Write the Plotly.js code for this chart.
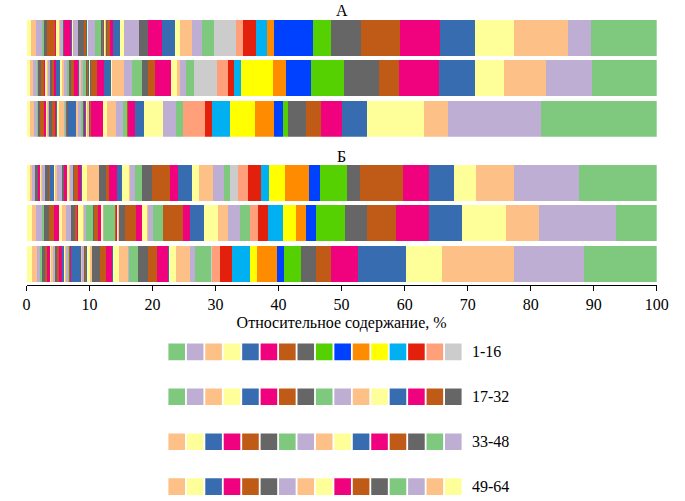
<!DOCTYPE html>
<html>
<head>
<meta charset="utf-8">
<script src="https://cdn.plot.ly/plotly-3.0.1.min.js"></script>
<style>html,body{margin:0;padding:0;background:#fff;}#chart{width:685px;height:501px;}</style>
</head>
<body>
<div id="chart"></div>
<script>
// ---- data ----
const panelTitles = ['А', 'Б'];
const xAxisTitle = 'Относительное содержание, %';
const xTickValues = [0, 10, 20, 30, 40, 50, 60, 70, 80, 90, 100];
const legendLabels = ['1-16', '17-32', '33-48', '49-64'];

// colours of fractions 1..64
const segmentColors = [
  '#7fc97f','#beaed4','#fdc086','#ffff99','#386cb0','#f0027f','#bf5b17','#666666',
  '#55d000','#0040ff','#ff8c00','#ffff00','#00b0f0','#e3200b','#ffa07a','#cccccc',
  '#7fc97f','#beaed4','#fdc086','#ffff99','#386cb0','#f0027f','#bf5b17','#666666',
  '#7fc97f','#beaed4','#fdc086','#ffff99','#386cb0','#f0027f','#bf5b17','#666666',
  '#fdc086','#ffff99','#386cb0','#f0027f','#bf5b17','#666666','#7fc97f','#beaed4',
  '#fdc086','#ffff99','#386cb0','#f0027f','#bf5b17','#666666','#7fc97f','#beaed4',
  '#fdc086','#ffff99','#386cb0','#f0027f','#bf5b17','#666666','#beaed4','#fdc086',
  '#ffff99','#f0027f','#bf5b17','#666666','#7fc97f','#beaed4','#fdc086','#ffff99'
];

// panel A, bars top to bottom (fraction 1..64, %)
const barA1 = [10.4,3.6,8.6,6.3,5.5,6.3,6.3,4.7,2.9,6.2,1.1,0,1.7,2.1,1.0,3.5,
  2.0,1.6,1.8,0.9,2.0,2.2,0,1.4,0,2.4,0,0.6,1.1,0.6,0.4,0.2,
  0.2,0.1,0.1,0.1,0.1,0.1,1.0,1.1,0.1,0.1,0.1,0.1,0.3,0.9,0.1,0.7,
  0.1,0.1,0.1,1.1,0.1,0.1,0.5,0.1,0.5,0.1,1.4,0.5,0.3,0.9,0.8,0.7];
const barA2 = [10.2,7.4,6.6,4.6,5.8,6.3,3.2,5.5,5.2,4.1,2.0,5.0,1.1,1.0,1.8,3.6,
  1.3,1.0,0.4,0.9,0,2.6,1.1,0.9,1.6,1.3,2.0,0.1,1.1,1.1,1.0,0.1,
  0.1,0.1,0.1,0.1,0.1,0.1,0.5,0.4,0.2,0.1,0.2,0.6,0.5,0.2,0.3,0.5,
  0.4,0.3,0.6,0.3,0.4,0.3,0.3,0.2,0.2,0.3,0.4,0.4,0.3,0.6,0.5,0.5];
const barA3 = [18.3,14.8,3.8,9.1,4.0,3.2,2.4,2.9,0.8,1.4,3.0,4.0,2.8,1.2,3.4,0,
  1.1,2.1,0.1,3.0,1.4,1.1,0.1,0.1,0.6,1.1,1.4,0.6,0.1,1.9,0.1,0.2,
  0.3,0.2,0.1,0.1,0.1,0.2,0.2,0.6,0.2,0.1,1.3,0.1,0.1,0.1,0.1,0.2,
  0.7,0.4,0.1,0.2,0.5,0.4,0.2,0.2,0.1,0.4,0.5,0.3,0.2,0.5,0.6,0.6];

// panel B, bars top to bottom
const barB1 = [12.4,10.2,6.1,3.4,4.1,4.1,6.8,2.1,4.2,1.7,3.9,2.6,1.2,2.1,1.5,1.3,
  1.0,1.7,2.3,1.1,2.1,1.4,2.8,1.6,1.1,0.8,0.2,1.1,0.7,1.3,0.5,1.1,
  1.9,0.8,0.1,0.6,0.5,0.2,0.1,0.4,0.1,0.3,0.1,0.4,0.1,0.2,0.1,0.8,
  0.2,0.3,0.5,0.1,0.2,0.5,0.6,0.1,0.1,0.3,0.1,0.4,0.1,0.5,0.3,0.5];
const barB2 = [6.5,12.1,5.3,7.0,5.3,5.1,4.7,3.5,4.5,1.6,1.6,2.1,2.4,1.6,1.2,0,
  1.7,1.8,1.6,2.3,2.2,1.0,3.2,0.1,1.6,0.8,0.1,0.7,0.1,1.0,1.7,1.0,
  0.1,0.1,0.1,0.1,0.1,0.1,1.7,0.1,0.1,0.2,0.1,0.5,0.6,0.1,1.2,0.2,
  0.2,0.8,0.1,0.1,0.3,0.6,0.8,0.6,0.5,0.8,0.8,0.8,0.4,0.9,0.7,0.8];
const barB3 = [11.6,11.0,11.5,5.7,7.6,4.3,2.4,2.3,2.8,1.0,3.3,1.1,2.8,1.9,1.3,0.1,
  2.5,0.9,2.1,1.2,0.1,1.8,1.4,1.6,1.5,0.1,1.4,1.0,0.1,1.0,1.0,1.2,
  0.3,0.5,0.1,0.1,0.1,0.1,0.1,0.3,0.1,0.1,1.6,0.1,0.1,0.1,0.1,0.4,
  0.1,0.2,0.2,0.5,0.3,0.3,0.4,0.3,0.2,0.5,0.3,0.5,0.2,0.6,0.8,0.8];

// ---- build ----
const serif = 'Liberation Serif, Times New Roman, serif';
const barW = 0.893;
const traces = [];
const panels = [
  {bars: [barA1, barA2, barA3], yaxis: 'y'},
  {bars: [barB1, barB2, barB3], yaxis: 'y2'}
];
panels.forEach(p => {
  for (let k = segmentColors.length - 1; k >= 0; k--) {
    traces.push({
      type: 'bar', orientation: 'h',
      y: [2, 1, 0],
      x: p.bars.map(b => b[k]),
      width: barW,
      marker: {color: segmentColors[k], line: {width: 0}},
      xaxis: 'x', yaxis: p.yaxis,
      hoverinfo: 'skip', showlegend: false
    });
  }
});

// colour key squares
const perRow = 16;
traces.push({
  type: 'scatter', mode: 'markers',
  x: segmentColors.map((c, i) => (i % perRow) + 1),
  y: segmentColors.map((c, i) => Math.floor(i / perRow) + 1),
  marker: {symbol: 'square', size: 16.6, color: segmentColors, line: {width: 0}},
  xaxis: 'x3', yaxis: 'y3', hoverinfo: 'skip', showlegend: false
});

const annotations = [
  {text: panelTitles[0], xref: 'paper', yref: 'paper', x: 0.4987, y: 0.979,
   xanchor: 'center', yanchor: 'middle', showarrow: false, font: {family: serif, size: 16, color: '#000'}},
  {text: panelTitles[1], xref: 'paper', yref: 'paper', x: 0.4987, y: 0.6886,
   xanchor: 'center', yanchor: 'middle', showarrow: false, font: {family: serif, size: 16, color: '#000'}}
];
legendLabels.forEach((t, r) => {
  annotations.push({text: t, xref: 'paper', yref: 'y3', x: 0.6861, y: r + 1,
    xanchor: 'left', yanchor: 'middle', showarrow: false, font: {family: serif, size: 16, color: '#000'}});
});

const layout = {
  width: 685, height: 501,
  margin: {l: 0, r: 0, t: 0, b: 0, pad: 0},
  paper_bgcolor: '#fff', plot_bgcolor: '#fff',
  barmode: 'stack', showlegend: false,
  font: {family: serif, color: '#000'},
  xaxis: {
    domain: [0.0387, 0.9587], range: [0, 100], anchor: 'y2',
    showline: true, linecolor: '#000', linewidth: 1, mirror: false,
    ticks: 'outside', ticklen: 5, tickwidth: 1, tickcolor: '#000',
    tickmode: 'array', tickvals: xTickValues, ticktext: xTickValues.map(String),
    tickfont: {family: serif, size: 16, color: '#000'},
    showgrid: false, zeroline: false, fixedrange: true,
    title: {text: xAxisTitle, font: {family: serif, size: 16, color: '#000'}, standoff: 4}
  },
  yaxis: {domain: [0.7271, 0.9601], range: [-0.4465, 2.4465], visible: false, fixedrange: true},
  yaxis2: {domain: [0.4311, 0.6707], range: [-0.5283, 2.4465], visible: false, fixedrange: true, anchor: 'x'},
  xaxis3: {domain: [0.2445, 0.6752], range: [0.5, 16.5], visible: false, anchor: 'y3', fixedrange: true},
  yaxis3: {domain: [0, 0.3393], range: [4.321, 0.5345], visible: false, anchor: 'x3', fixedrange: true},
  annotations: annotations
};

Plotly.newPlot('chart', traces, layout, {displayModeBar: false, staticPlot: true});
</script>
</body>
</html>
